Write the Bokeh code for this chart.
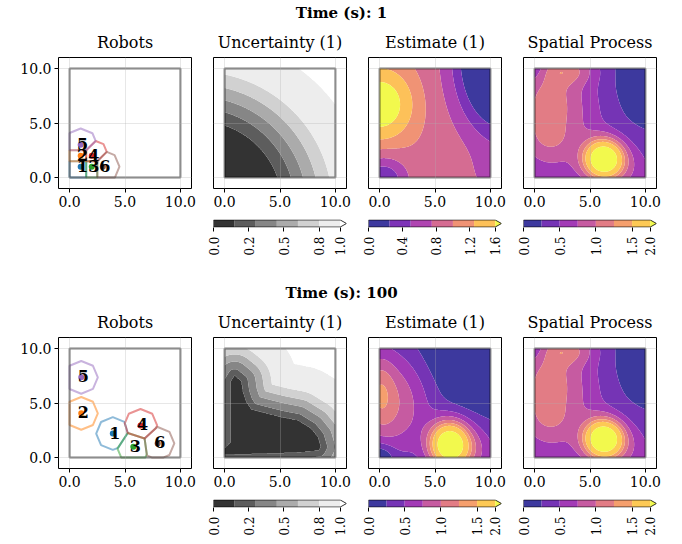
import numpy as np
from bokeh.plotting import figure
from bokeh.layouts import column, row
from bokeh.models import (Range1d, FixedTicker, NumeralTickFormatter,
                          CustomJSTickFormatter, Spacer, Label)
from bokeh.core.properties import value
from bokeh.palettes import Plasma256
from bokeh.embed import file_html
from bokeh.resources import INLINE

FONT = "DejaVu Serif"

# ---------------------------------------------------------------- data
time_titles = ["Time (s): 1", "Time (s): 100"]
panel_titles = ["Robots", "Uncertainty (1)", "Estimate (1)", "Spatial Process"]
axis_ticks = [0.0, 5.0, 10.0]
domain = [0.0, 10.0]

robot_ids = ["1", "2", "3", "4", "5", "6"]
robot_colors = ["#1f77b4", "#ff7f0e", "#2ca02c", "#d62728", "#9467bd", "#8c564b"]
robot_x_t1 = [1.0, 1.0, 2.0, 2.0, 1.0, 3.0]
robot_y_t1 = [1.0, 2.0, 1.0, 2.0, 3.0, 1.0]
robot_x_t100 = [3.9, 1.05, 5.75, 6.4, 1.05, 7.95]
robot_y_t100 = [2.2, 4.05, 1.0, 2.95, 7.35, 1.3]
sensing_radius = 1.5
cell_vertices = 8

# uncertainty colour levels (Greys_r, alpha .8)
unc_levels = [0.0, 0.15, 0.30, 0.45, 0.60, 0.75, 1.00]
unc_ticks = [0.0, 0.25, 0.5, 0.75, 1.0]
unc_tick_labels = ["0.0", "0.2", "0.5", "0.8", "1.0"]
unc_colors = ["#333333", "#5d5d5d", "#868686", "#ababab", "#d1d1d1", "#ededed"]
unc_over = "#ffffff"

# uncertainty t=1 : value against distance from a centre
unc1_center = [-2.5, -2.5]
unc1_radius = [0.0, 7.7, 8.85, 9.9, 11.0, 12.2, 15.5, 25.0]
unc1_value = [0.0, 0.15, 0.30, 0.45, 0.60, 0.75, 1.00, 1.05]

# uncertainty t=100 : outline of the well-sampled (dark) region, and
# value against distance outside it
dark_x = [0.9, 1.5, 1.64, 1.94, 2.4, 3.9, 5.1, 6.6, 7.8, 8.4, 8.66, 8.5,
          6.9, 3.9, 0.9, 0.0, 0.0, 0.6, 0.55, 0.6]
dark_y = [7.5, 7.0, 6.0, 5.1, 4.4, 4.0, 3.7, 3.4, 2.65, 1.9, 1.0, 0.7,
          0.5, 0.4, 0.3, 0.3, 0.85, 1.45, 4.8, 7.0]
unc2_inside = 0.05
unc2_dist = [0.0, 0.6, 1.3, 1.95, 2.7, 5.0, 25.0]
unc2_value = [0.15, 0.30, 0.45, 0.60, 0.75, 1.00, 1.05]

est1_levels = [0.0, 0.25, 0.5, 0.75, 1.0, 1.25, 1.6]
est1_ticks = [0.0, 0.4, 0.8, 1.2, 1.6]
est1_tick_labels = ["0.0", "0.4", "0.8", "1.2", "1.6"]
proc_levels = [0.0, 0.25, 0.5, 0.75, 1.0, 1.25, 1.5, 2.0]
proc_ticks = [0.0, 0.5, 1.0, 1.5, 2.0]
proc_tick_labels = ["0.0", "0.5", "1.0", "1.5", "2.0"]
field_floor = 0.01

# estimate at t=1 : base + bumps (cx, cy, sx, sy, amp)
est1_base = 0.95
est1_cx = [0.0, 11.0, 0.3, 10.5]
est1_cy = [6.7, 11.0, -0.3, 0.0]
est1_sx = [1.9, 2.7, 1.5, 1.8]
est1_sy = [2.1, 4.6, 1.5, 1.8]
est1_amp = [1.05, -1.8, -0.7, -0.2]

# estimate at t=100
est2_base = 0.15
est2_cx = [6.3, 1.0, 0.0, 0.0, 9.0, 8.5]
est2_cy = [1.2, 5.0, 6.2, 0.0, 10.0, 0.5]
est2_sx = [1.25, 2.6, 0.9, 0.9, 3.5, 2.0]
est2_sy = [1.45, 3.6, 2.3, 0.9, 3.0, 2.0]
est2_amp = [2.3, 0.85, 0.4, -0.5, -0.4, 0.5]

# true spatial process
proc_base = 0.25
proc_cx = [6.25, 1.5, 2.8, 1.5, 1.1, 1.5, 9.5, 8.5, 0.0]
proc_cy = [1.7, 6.0, 9.8, 7.3, 5.2, 3.6, 9.0, 0.5, 10.0]
proc_sx = [1.2, 3.2, 1.8, 1.1, 1.1, 1.0, 2.5, 2.0, 0.9]
proc_sy = [1.2, 5.0, 0.9, 1.4, 1.4, 0.9, 3.0, 2.0, 0.9]
proc_amp = [2.3, 0.75, 0.45, 0.15, 0.15, 0.15, -0.2, 0.35, -0.3]


# ---------------------------------------------------------------- helpers
def blend(hexc, alpha=0.8):
    rgb = [int(hexc[i:i + 2], 16) for i in (1, 3, 5)]
    return "#%02x%02x%02x" % tuple(int(round(alpha * v + (1 - alpha) * 255)) for v in rgb)


def plasma_colors(n_int):
    cols = [blend(Plasma256[int(round(i / n_int * 255))]) for i in range(n_int + 1)]
    return cols[:-1], cols[-1]


GX = np.linspace(0, 10, 201)
GY = np.linspace(0, 10, 201)
MX, MY = np.meshgrid(GX, GY)


def bump_field(base, cx, cy, sx, sy, amp):
    z = np.full(MX.shape, base, dtype=float)
    for a, b, c, d, e in zip(cx, cy, sx, sy, amp):
        z += e * np.exp(-((MX - a) ** 2 / (2 * c * c) + (MY - b) ** 2 / (2 * d * d)))
    return np.maximum(z, field_floor)


def seg_distance(xs, ys):
    d = np.full(MX.shape, np.inf)
    for x0, y0, x1, y1 in zip(xs[:-1], ys[:-1], xs[1:], ys[1:]):
        dx, dy = x1 - x0, y1 - y0
        l2 = dx * dx + dy * dy
        t = np.clip(((MX - x0) * dx + (MY - y0) * dy) / l2, 0, 1)
        d = np.minimum(d, np.hypot(MX - (x0 + t * dx), MY - (y0 + t * dy)))
    return d


def inside_polygon(xs, ys):
    inside = np.zeros(MX.shape, dtype=bool)
    n = len(xs)
    for i in range(n):
        x0, y0 = xs[i], ys[i]
        x1, y1 = xs[(i + 1) % n], ys[(i + 1) % n]
        if y0 == y1:
            continue
        cond = ((y0 > MY) != (y1 > MY)) & (MX < (x1 - x0) * (MY - y0) / (y1 - y0) + x0)
        inside ^= cond
    return inside


def clip(poly, a, b, c):
    """keep a*x + b*y <= c"""
    out = []
    n = len(poly)
    for i in range(n):
        p, q = poly[i], poly[(i + 1) % n]
        fp = a * p[0] + b * p[1] - c
        fq = a * q[0] + b * q[1] - c
        if fp <= 0:
            out.append(p)
        if fp * fq < 0:
            t = fp / (fp - fq)
            out.append((p[0] + t * (q[0] - p[0]), p[1] + t * (q[1] - p[1])))
    return out


def cells(rx, ry):
    xs_all, ys_all = [], []
    for i in range(len(rx)):
        ang = np.arange(cell_vertices) * 2 * np.pi / cell_vertices
        poly = [(rx[i] + sensing_radius * np.cos(t), ry[i] + sensing_radius * np.sin(t)) for t in ang]
        poly = clip(poly, -1, 0, -domain[0])
        poly = clip(poly, 1, 0, domain[1])
        poly = clip(poly, 0, -1, -domain[0])
        poly = clip(poly, 0, 1, domain[1])
        for j in range(len(rx)):
            if j == i:
                continue
            a, b = rx[j] - rx[i], ry[j] - ry[i]
            c = (rx[j] ** 2 + ry[j] ** 2 - rx[i] ** 2 - ry[i] ** 2) / 2
            poly = clip(poly, a, b, c)
        xs_all.append([p[0] for p in poly])
        ys_all.append([p[1] for p in poly])
    return xs_all, ys_all


# ---------------------------------------------------------------- layout sizes
FW, FH = 133, 131
LB1, SB = 58, 11
TOPB, BOTB = 32, 26
HEAD_W, HEAD_H = 682, 24


def style_panel(p, show_y):
    p.title.text_font = FONT
    p.title.text_font_size = "16px"
    p.title.text_font_style = "normal"
    p.title.text_color = "black"
    p.title.align = "center"
    p.title.standoff = 12
    p.outline_line_color = "black"
    p.outline_line_width = 1
    p.outline_line_alpha = 1
    for ax in p.xaxis + p.yaxis:
        ax.ticker = FixedTicker(ticks=axis_ticks)
        ax.formatter = NumeralTickFormatter(format="0.0")
        ax.major_label_text_font = FONT
        ax.major_label_text_font_size = "14px"
        ax.major_label_text_color = "black"
        ax.major_tick_out = 4
        ax.major_tick_in = 0
        ax.minor_tick_out = 0
        ax.minor_tick_in = 0
        ax.axis_line_color = None
        ax.major_tick_line_color = "black"
        ax.major_label_standoff = 3
    p.yaxis.visible = show_y
    p.grid.ticker = FixedTicker(ticks=axis_ticks)
    p.grid.grid_line_color = "#b0b0b0"
    p.grid.grid_line_alpha = 0.3
    p.grid.level = "annotation"


def new_panel(title, show_y):
    p = figure(frame_width=FW, frame_height=FH,
               x_range=Range1d(-1, 11), y_range=Range1d(-1, 11),
               min_border_left=LB1 if show_y else SB, min_border_right=SB,
               min_border_top=TOPB, min_border_bottom=BOTB,
               title=title, toolbar_location=None, output_backend="svg")
    style_panel(p, show_y)
    return p


def draw_box(p):
    p.quad(left=[domain[0]], right=[domain[1]], bottom=[domain[0]], top=[domain[1]],
           fill_color=None, line_color="black", line_alpha=0.5, line_width=2)


def field_panel(title, z, levels, colors, over):
    p = new_panel(title, False)
    top = max(float(z.max()), levels[-1]) + 1.0
    p.contour(x=GX, y=GY, z=z, levels=list(levels) + [top],
              fill_color=list(colors) + [over], line_color=None)
    draw_box(p)
    return p


def robots_panel(rx, ry):
    p = new_panel(panel_titles[0], True)
    cx, cy = cells(rx, ry)
    p.patches(cx, cy, fill_color=None, line_color=robot_colors, line_alpha=0.5, line_width=2)
    draw_box(p)
    p.scatter(rx, ry, size=6, color=robot_colors, line_color=None)
    p.text(rx, ry, text=robot_ids, text_font=value(FONT), text_font_style="bold",
           text_font_size="16px", text_color="black", text_align="center",
           text_baseline="middle", x_offset=2, y_offset=-1)
    return p


def colorbar(levels, colors, over, ticks, labels, bottom):
    n = len(levels) - 1
    ext = n * 1.05
    p = figure(frame_width=FW, frame_height=8,
               x_range=Range1d(0, ext), y_range=Range1d(-0.06, 1.06),
               min_border_left=SB, min_border_right=SB, min_border_top=5,
               min_border_bottom=bottom, toolbar_location=None, output_backend="svg")
    idx = list(range(n + 1))
    p.quad(left=idx[:-1], right=idx[1:], bottom=0, top=1, fill_color=colors, line_color=None)
    p.patch([n, ext, n], [0, 0.5, 1], fill_color=over, line_color=None)
    p.line([0, n, ext, n, 0, 0], [0, 0, 0.5, 1, 1, 0], line_color="black", line_width=0.8)
    pos = [float(v) for v in np.interp(ticks, levels, idx)]
    ax = p.xaxis[0]
    ax.ticker = FixedTicker(ticks=pos)
    ax.formatter = CustomJSTickFormatter(args=dict(labels=labels), code="return labels[index];")
    ax.major_label_orientation = np.pi / 2
    ax.major_label_text_font = FONT
    ax.major_label_text_font_size = "12px"
    ax.major_label_text_color = "black"
    ax.major_tick_out = 4
    ax.major_tick_in = 0
    ax.minor_tick_out = 0
    ax.axis_line_color = None
    ax.major_label_standoff = 5
    p.yaxis.visible = False
    p.grid.visible = False
    p.outline_line_color = None
    return p


def header(text):
    p = figure(frame_width=HEAD_W, frame_height=HEAD_H,
               x_range=Range1d(0, 1), y_range=Range1d(0, 1), min_border=0,
               x_axis_type=None, y_axis_type=None, toolbar_location=None,
               output_backend="svg")
    p.outline_line_color = None
    p.add_layout(Label(x=0.5, y=0.5, text=text, text_align="center", text_baseline="middle",
                       text_font=FONT, text_font_style="bold", text_font_size="15px",
                       text_color="black"))
    return p


def band(title, rx, ry, z_unc, z_est, est_levels, est_ticks, est_labels, z_proc, cb_bottom):
    est_cols, est_over = plasma_colors(len(est_levels) - 1)
    proc_cols, proc_over = plasma_colors(len(proc_levels) - 1)
    panels = row(
        robots_panel(rx, ry),
        field_panel(panel_titles[1], z_unc, unc_levels, unc_colors, unc_over),
        field_panel(panel_titles[2], z_est, est_levels, est_cols, est_over),
        field_panel(panel_titles[3], z_proc, proc_levels, proc_cols, proc_over),
        spacing=0)
    cbh = 5 + 8 + cb_bottom
    bars = row(
        Spacer(width=LB1 + FW + SB, height=cbh),
        colorbar(unc_levels, unc_colors, unc_over, unc_ticks, unc_tick_labels, cb_bottom),
        colorbar(est_levels, est_cols, est_over, est_ticks, est_labels, cb_bottom),
        colorbar(proc_levels, proc_cols, proc_over, proc_ticks, proc_tick_labels, cb_bottom),
        spacing=0)
    return column(header(title), panels, bars, spacing=0)


# ---------------------------------------------------------------- fields
r1 = np.hypot(MX - unc1_center[0], MY - unc1_center[1])
unc_t1 = np.interp(r1, unc1_radius, unc1_value)
dd = seg_distance(dark_x + dark_x[:1], dark_y + dark_y[:1])
unc_t100 = np.where(inside_polygon(dark_x, dark_y), unc2_inside,
                    np.interp(dd, unc2_dist, unc2_value))
est_t1 = bump_field(est1_base, est1_cx, est1_cy, est1_sx, est1_sy, est1_amp)
est_t100 = bump_field(est2_base, est2_cx, est2_cy, est2_sx, est2_sy, est2_amp)
proc = bump_field(proc_base, proc_cx, proc_cy, proc_sx, proc_sy, proc_amp)

b1 = band(time_titles[0], robot_x_t1, robot_y_t1, unc_t1, est_t1,
          est1_levels, est1_ticks, est1_tick_labels, proc, 53)
b2 = band(time_titles[1], robot_x_t100, robot_y_t100, unc_t100, est_t100,
          proc_levels, proc_ticks, proc_tick_labels, proc, 34)

page = column(b1, b2, spacing=0)
open("out.html", "w").write(file_html(page, INLINE))
